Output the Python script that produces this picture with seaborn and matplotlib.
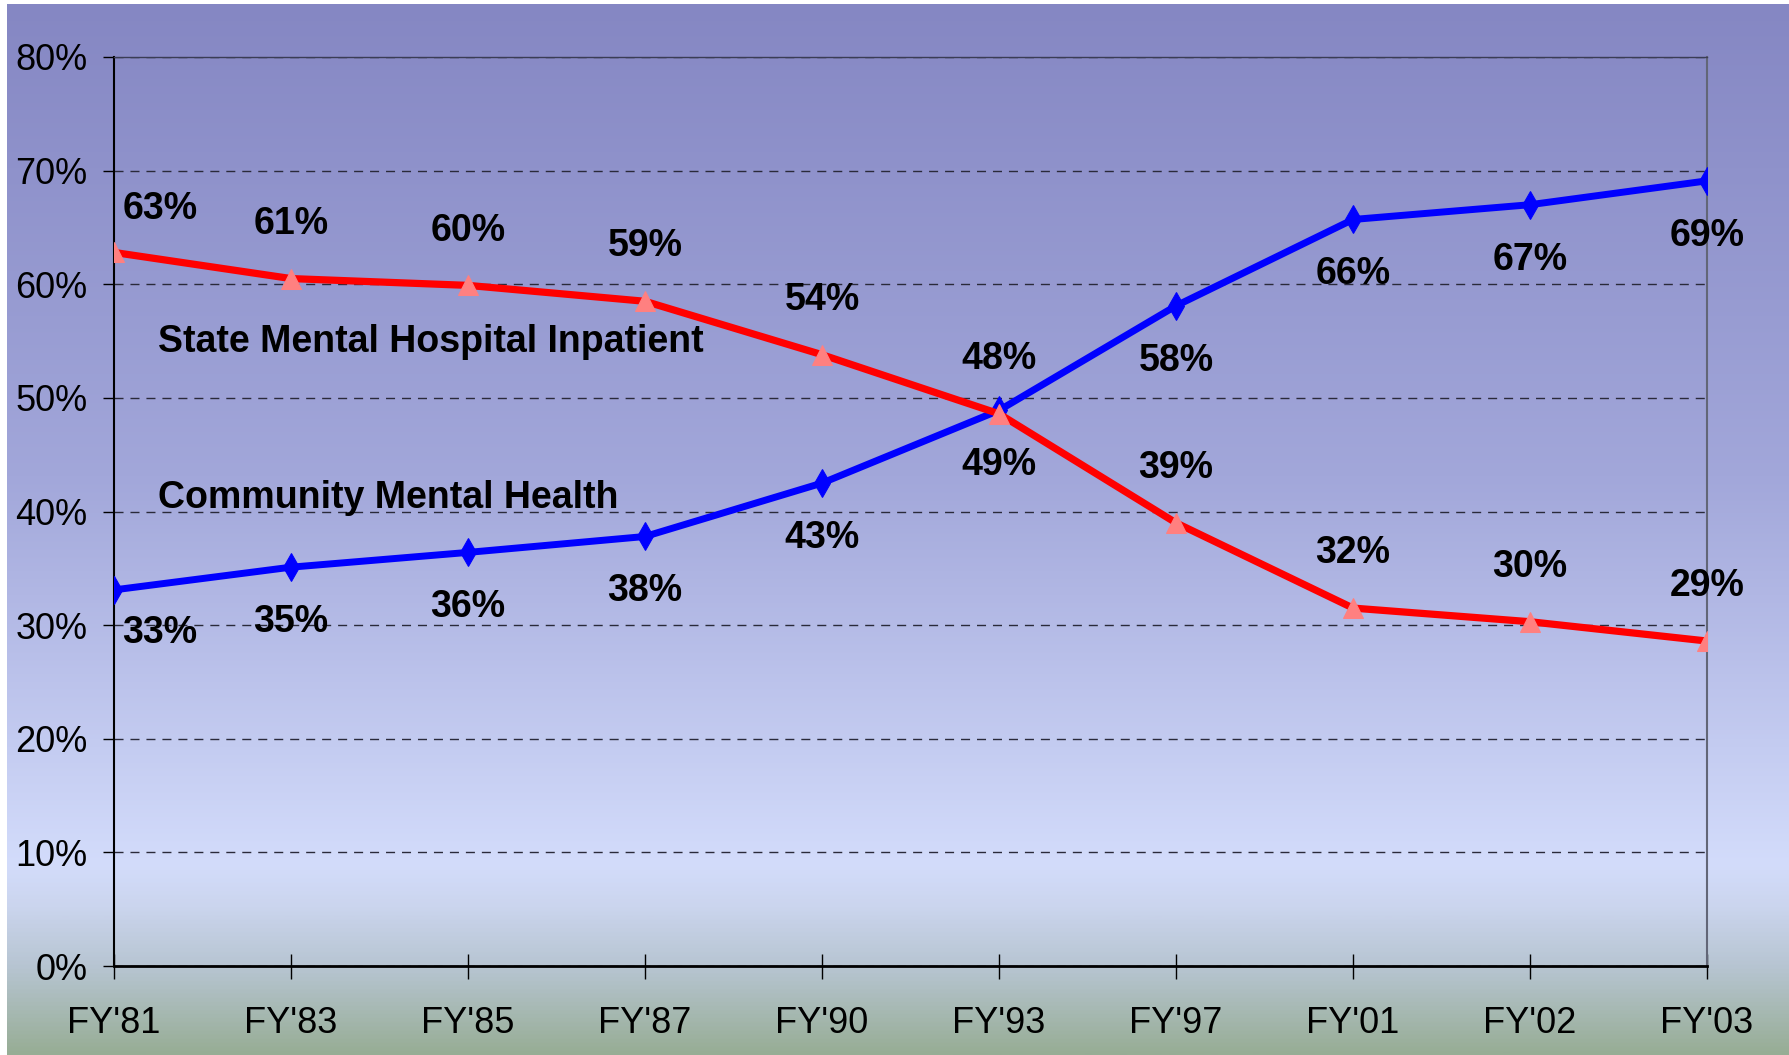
import numpy as np
import pandas as pd
import matplotlib.pyplot as plt
from matplotlib.colors import LinearSegmentedColormap
import seaborn as sns

# === DATA ===
YEARS = ["FY'81", "FY'83", "FY'85", "FY'87", "FY'90", "FY'93", "FY'97", "FY'01", "FY'02", "FY'03"]
STATE_HOSPITAL = [62.8, 60.5, 59.9, 58.5, 53.8, 48.6, 39.0, 31.5, 30.3, 28.6]
COMMUNITY = [33.1, 35.1, 36.4, 37.8, 42.5, 48.9, 58.1, 65.7, 67.0, 69.1]
STATE_LABELS = ["63%", "61%", "60%", "59%", "54%", "48%", "39%", "32%", "30%", "29%"]
COMMUNITY_LABELS = ["33%", "35%", "36%", "38%", "43%", "49%", "58%", "66%", "67%", "69%"]
Y_TICKS = [0, 10, 20, 30, 40, 50, 60, 70, 80]

sns.set_theme(style="white")
plt.rcParams['font.family'] = ['Liberation Sans', 'DejaVu Sans']

df = pd.DataFrame({
    "pos": np.arange(len(YEARS)),
    "year": YEARS,
    "state": STATE_HOSPITAL,
    "community": COMMUNITY,
})

W, H = 1789, 1055
fig = plt.figure(figsize=(W / 100, H / 100), dpi=100)
fig.patch.set_facecolor("white")

# --- gradient panel behind the chart ---
bg = fig.add_axes([7 / W, 0, 1 - 7 / W, 1 - 4 / H], zorder=0)
grad_cmap = LinearSegmentedColormap.from_list("bg", [
    (0.00, "#8587c3"),
    (0.45, "#a2a7da"),
    (0.82, "#d3dcfb"),
    (0.86, "#cbd5ee"),
    (0.92, "#b6c4d0"),
    (1.00, "#97ad95"),
])
bg.imshow(np.linspace(0, 1, 512).reshape(-1, 1), cmap=grad_cmap, aspect="auto",
          extent=[0, 1, 0, 1], origin="upper")
bg.set_axis_off()

# --- main chart ---
ax = fig.add_axes([114 / W, 1 - 966 / H, (1707 - 114) / W, (966 - 57) / H], zorder=1)
ax.set_facecolor("none")

sns.lineplot(data=df, x="pos", y="community", ax=ax, color="#0000ff", linewidth=5,
             marker="d", markersize=14, markerfacecolor="#0000ff",
             markeredgecolor="#0000ff", zorder=3)
sns.lineplot(data=df, x="pos", y="state", ax=ax, color="#ff0000", linewidth=5.2,
             marker="^", markersize=14, markerfacecolor="#ff8080",
             markeredgecolor="#ff8080", zorder=4)

ax.set_xlim(0, len(YEARS) - 1)
ax.set_ylim(0, 80)
ax.set_xticks(df["pos"])
ax.set_xticklabels(YEARS, fontsize=26)
ax.set_yticks(Y_TICKS)
ax.set_yticklabels([f"{t}%" for t in Y_TICKS], fontsize=26)
ax.set_xlabel("")
ax.set_ylabel("")

ax.tick_params(axis="y", direction="out", length=8, width=1, color="black",
               labelcolor="black", pad=11, left=True)
ax.tick_params(axis="x", direction="inout", length=18, width=1, color="black",
               labelcolor="black", pad=20, bottom=True)

ax.yaxis.grid(True, color="#2a2a3a", linestyle=(0, (6.5, 5)), linewidth=1)
ax.xaxis.grid(False)
ax.set_axisbelow(True)

ax.spines["left"].set_color("black")
ax.spines["left"].set_linewidth(1.5)
ax.spines["bottom"].set_color("black")
ax.spines["bottom"].set_linewidth(2)
ax.spines["right"].set_color("#626677")
ax.spines["right"].set_linewidth(1.5)
ax.spines["top"].set_color("#3a3d55")
ax.spines["top"].set_linewidth(1)

# data labels: hospital above, community below
for i, (v, lbl) in enumerate(zip(STATE_HOSPITAL, STATE_LABELS)):
    dx, dy = (33, 31) if i == 0 else (0, 39.5)
    ax.annotate(lbl, (i, v), xytext=(dx, dy), textcoords="offset points",
                ha="center", va="center", fontsize=27, fontweight="bold", color="black")
for i, (v, lbl) in enumerate(zip(COMMUNITY, COMMUNITY_LABELS)):
    dx, dy = (33, -31) if i == 0 else (0, -39.5)
    ax.annotate(lbl, (i, v), xytext=(dx, dy), textcoords="offset points",
                ha="center", va="center", fontsize=27, fontweight="bold", color="black")

# series names
ax.text(0.25, 54.0, "State Mental Hospital Inpatient", fontsize=27, fontweight="bold",
        ha="left", va="baseline", color="black")
ax.text(0.25, 40.3, "Community Mental Health", fontsize=27, fontweight="bold",
        ha="left", va="baseline", color="black")

fig.savefig("out.png", dpi=100)
